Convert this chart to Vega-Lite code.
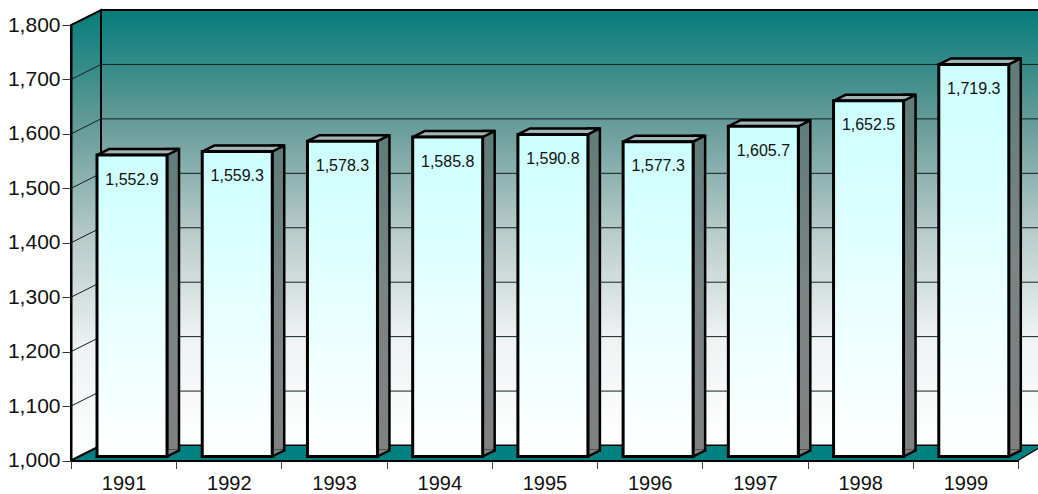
{
"$schema":"https://vega.github.io/schema/vega-lite/v6.json",
"width":947,"height":435.5,
"autosize":{"type":"none"},
"padding":{"left":71,"top":25,"right":20,"bottom":33.5},
"background":"white",
"config":{"view":{"stroke":null},"font":"Liberation Sans"},
"datasets":{
"bars":[{"year":1991,"value":1552.9},{"year":1992,"value":1559.3},{"year":1993,"value":1578.3},{"year":1994,"value":1585.8},{"year":1995,"value":1590.8},{"year":1996,"value":1577.3},{"year":1997,"value":1605.7},{"year":1998,"value":1652.5},{"year":1999,"value":1719.3}],
"grid":[{"level":1100},{"level":1200},{"level":1300},{"level":1400},{"level":1500},{"level":1600},{"level":1700}],
"frame":[{"from":1990.5,"to":1999.5,"low":1000,"high":1800}]
},
"layer":[
{"data":{"name":"frame"},
 "mark":{"type":"rect","xOffset":30,"x2Offset":22,"yOffset":-15,"y2Offset":-15,"stroke":"black","strokeWidth":2,"fill":{"x1":0,"y1":1,"x2":0,"y2":0,"gradient":"linear","stops":[{"offset":0,"color":"#ffffff"},{"offset":0.25,"color":"#eef2f2"},{"offset":0.5,"color":"#b5cac8"},{"offset":0.75,"color":"#639a97"},{"offset":1,"color":"#067c7a"}]}},
 "encoding":{
  "x":{"field":"from","type":"quantitative","scale":{"domain":[1990.5,1999.5],"padding":0,"nice":false,"zero":false},
   "axis":{"title":null,"values":[1990.5,1991,1991.5,1992,1992.5,1993,1993.5,1994,1994.5,1995,1995.5,1996,1996.5,1997,1997.5,1998,1998.5,1999,1999.5],
    "labelExpr":"datum.value%1==0?format(datum.value,'d'):''","labelFontSize":20,"labelColor":"#111","labelBaseline":"alphabetic","labelPadding":20.5,"labelFlush":false,"labelOverlap":false,"tickSize":8,"tickColor":"#444","tickWidth":1,"tickOpacity":{"condition":{"test":"datum.value%1==0","value":0},"value":1},"domainColor":"black","domainWidth":2,"grid":false,"zindex":1}},
  "x2":{"field":"to"},
  "y":{"field":"low","type":"quantitative","scale":{"domain":[1000,1800],"nice":false,"zero":false},
   "axis":{"title":null,"values":[1000,1100,1200,1300,1400,1500,1600,1700,1800],"format":",.0f","labelFontSize":21,"labelColor":"#111","labelPadding":2,"tickSize":9,"tickColor":"#333","tickWidth":1,"domainColor":"black","domainWidth":2,"grid":false,"zindex":1}},
  "y2":{"field":"high"}
 }},
{"data":{"name":"grid"},
 "mark":{"type":"rule","xOffset":30,"x2Offset":20,"yOffset":-15,"y2Offset":-15,"stroke":"#102020","strokeWidth":1},
 "encoding":{"x":{"datum":1990.5},"x2":{"datum":1999.5},"y":{"field":"level","type":"quantitative"}}},
{"data":{"name":"frame"},
 "mark":{"type":"point","filled":true,"opacity":1,"size":4,"shape":"M0,0L30,-15L972,-15L947,0Z","fill":"#008080","stroke":"black","strokeWidth":1.2},
 "encoding":{"x":{"field":"from","type":"quantitative"},"y":{"field":"low","type":"quantitative"}}},
{"data":{"name":"frame"},
 "mark":{"type":"point","filled":true,"opacity":1,"size":4,"shape":"M0,0L30,-15L30,-450.5L0,-435.5Z","stroke":"black","strokeWidth":2,"fill":{"x1":0,"y1":1,"x2":0,"y2":0,"gradient":"linear","stops":[{"offset":0,"color":"#ffffff"},{"offset":0.25,"color":"#eef2f2"},{"offset":0.5,"color":"#b5cac8"},{"offset":0.75,"color":"#639a97"},{"offset":1,"color":"#067c7a"}]}},
 "encoding":{"x":{"field":"from","type":"quantitative"},"y":{"field":"low","type":"quantitative"}}},
{"data":{"name":"grid"},
 "mark":{"type":"point","filled":false,"opacity":1,"size":4,"shape":"M0,0L30,-15","stroke":"#102020","strokeWidth":1},
 "encoding":{"x":{"datum":1990.5},"y":{"field":"level","type":"quantitative"}}},
{"data":{"name":"bars"},
 "mark":{"type":"bar","orient":"vertical","width":12,"xOffset":49.4,"yOffset":-10.5,"y2Offset":-10,"stroke":"black","strokeWidth":2.5,"fill":{"x1":0,"y1":0,"x2":0,"y2":1,"gradient":"linear","stops":[{"offset":0,"color":"#5f7c7a"},{"offset":0.5,"color":"#7a8584"},{"offset":1,"color":"#808080"}]}},
 "encoding":{"x":{"field":"year","type":"quantitative"},"y":{"field":"value","type":"quantitative"},"y2":{"datum":1000}}},
{"data":{"name":"bars"},
 "mark":{"type":"point","filled":true,"opacity":1,"size":4,"shape":"M43.4,-4L54,-9.3L54,-11L43.4,-11Z","fill":"#808080","strokeWidth":0},
 "encoding":{"x":{"field":"year","type":"quantitative"},"y":{"datum":1000}}},
{"data":{"name":"bars"},
 "mark":{"type":"point","filled":false,"opacity":1,"size":4,"shape":"M43.4,-4L55.4,-10","stroke":"black","strokeWidth":2.5},
 "encoding":{"x":{"field":"year","type":"quantitative"},"y":{"datum":1000}}},
{"data":{"name":"bars"},
 "mark":{"type":"point","filled":true,"opacity":1,"size":4,"shape":"M-26.6,-4.5L-14.6,-10.5L55.4,-10.5L43.4,-4.5Z","fill":"#a3b4b4","stroke":"black","strokeWidth":2.5},
 "encoding":{"x":{"field":"year","type":"quantitative"},"y":{"field":"value","type":"quantitative"}}},
{"data":{"name":"bars"},
 "mark":{"type":"bar","orient":"vertical","width":70,"xOffset":8.4,"yOffset":-4.5,"y2Offset":-4,"stroke":"black","strokeWidth":3,"fill":{"x1":0,"y1":0,"x2":0,"y2":1,"gradient":"linear","stops":[{"offset":0,"color":"#ccffff"},{"offset":1,"color":"#ffffff"}]}},
 "encoding":{"x":{"field":"year","type":"quantitative"},"y":{"field":"value","type":"quantitative"},"y2":{"datum":1000}}},
{"data":{"name":"bars"},
 "mark":{"type":"text","dx":8.4,"dy":20,"fontSize":16,"color":"#111","align":"center","baseline":"middle"},
 "encoding":{"x":{"field":"year","type":"quantitative"},"y":{"field":"value","type":"quantitative"},"text":{"field":"value","type":"quantitative","format":",.1f"}}}
]
}
